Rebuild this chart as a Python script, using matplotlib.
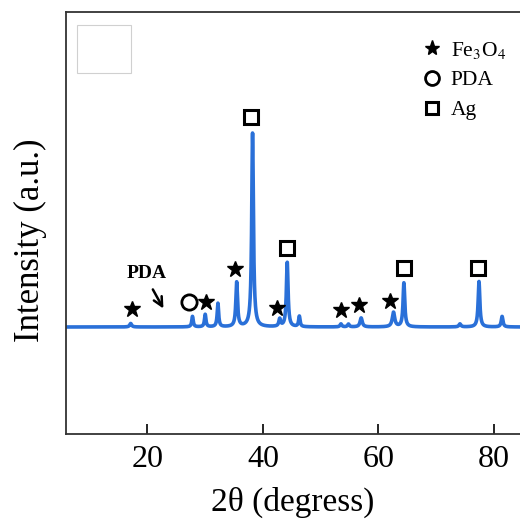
import numpy as np
import matplotlib
matplotlib.use("Agg")
import matplotlib.pyplot as plt
from matplotlib.lines import Line2D
from matplotlib.patches import Rectangle

plt.rcParams['font.family'] = ['Liberation Serif', 'DejaVu Serif']
plt.rcParams['mathtext.fontset'] = 'stix'

# XRD peak table (2theta, height above background, fwhm)
peak_pos = [17.1, 27.8, 30.0, 32.2, 35.45, 38.2, 42.9, 44.2, 46.3,
            53.5, 54.8, 57.0, 62.6, 64.4, 74.1, 77.4, 81.4]
peak_height = [35, 105, 125, 235, 445, 1940, 75, 645, 105,
               30, 28, 90, 145, 440, 30, 455, 105]
peak_fwhm = [0.4, 0.3, 0.3, 0.3, 0.35, 0.35, 0.35, 0.35, 0.3,
             0.35, 0.35, 0.45, 0.5, 0.35, 0.4, 0.35, 0.35]
background = 1000

# phase markers above the peaks
star_x = [17.4, 30.1, 35.15, 42.4, 53.5, 56.7, 62.0]
star_y = [1180, 1250, 1580, 1190, 1170, 1220, 1260]
circle_x = [27.2]
circle_y = [1253]
square_x = [37.9, 44.15, 64.45, 77.3]
square_y = [3100, 1790, 1587, 1587]

xticks = [20, 40, 60, 80]


def pattern(x):
    y = np.full_like(x, background, dtype=float)
    for p, h, w in zip(peak_pos, peak_height, peak_fwhm):
        g = (w / 2) ** 2
        y += h * g / ((x - p) ** 2 + g)
    return y


x = np.linspace(5.9, 84.5, 4000)

fig = plt.figure(figsize=(5.2, 5.21), dpi=100)
ax = fig.add_axes([66 / 520, 1 - 434 / 521, 1 - 66 / 520, 422 / 521])

ax.plot(x, pattern(x), color='#2a70d8', lw=2.6)

ax.plot(star_x, star_y, ls='none', marker='*', color='black', ms=12)
ax.plot(circle_x, circle_y, ls='none', marker='o', mfc='white', mec='black',
        ms=11, mew=2)
ax.plot(square_x, square_y, ls='none', marker='s', mfc='white', mec='black',
        ms=10, mew=2.2)

ax.text(19.85, 1530, 'PDA', fontsize=14, fontweight='bold',
        ha='center', va='center')
ax.annotate('', xy=(23.0, 1160), xytext=(20.7, 1400),
            arrowprops=dict(arrowstyle='->', lw=1.8, color='black',
                            mutation_scale=16))

ax.add_patch(Rectangle((0.024, 0.855), 0.119, 0.114, transform=ax.transAxes,
                       fill=False, ec='#d0d0d0', lw=0.8))

handles = [
    Line2D([], [], ls='none', marker='*', color='black', ms=11),
    Line2D([], [], ls='none', marker='o', mfc='white', mec='black', ms=10, mew=2),
    Line2D([], [], ls='none', marker='s', mfc='white', mec='black', ms=9, mew=2.2),
]
ax.legend(handles, ['Fe$_3$O$_4$', 'PDA', 'Ag'], loc='upper left',
          bbox_to_anchor=(0.769, 0.955), frameon=False, fontsize=15.5,
          handlelength=0.8, handletextpad=0.45, labelspacing=0.45,
          borderaxespad=0)

ax.set_xlim(5.9, 84.5)
ax.set_ylim(-70, 4150)
ax.set_xticks(xticks)
ax.set_yticks([])
ax.tick_params(axis='x', direction='in', length=7, width=1.2, pad=8,
               labelsize=23)
ax.set_xlabel('2θ (degress)', fontsize=24, labelpad=9)
ax.set_ylabel('Intensity (a.u.)', fontsize=25)
ax.yaxis.set_label_coords(-0.042, 0.46)

for s in ['left', 'bottom', 'top']:
    ax.spines[s].set_linewidth(1.3)
    ax.spines[s].set_color('#333333')
ax.spines['right'].set_visible(False)

fig.savefig('out.png', dpi=100)
